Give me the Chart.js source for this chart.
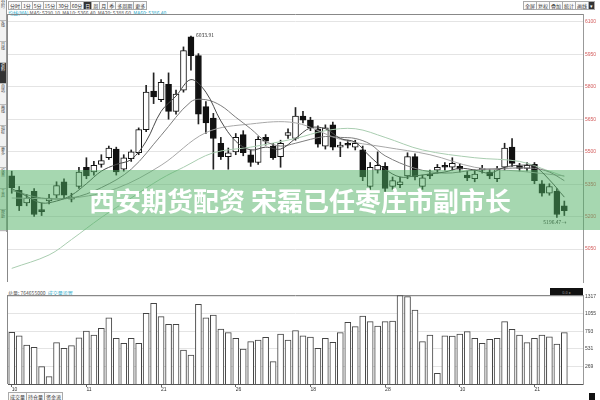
<!DOCTYPE html>
<html>
<head>
<meta charset="utf-8">
<script src="https://cdn.jsdelivr.net/npm/chart.js@4.4.1/dist/chart.umd.min.js"></script>
<style>
  body { margin: 0; width: 600px; height: 400px; overflow: hidden; background: #fff; position: relative;
         font-family: "Noto Sans CJK SC", "Noto Sans", sans-serif; }
  canvas { position: absolute; left: 0; }
  #priceChart { top: 9px; }
  #volChart { top: 287px; }
  .bar { position: absolute; display: flex; font-size: 5px; line-height: 7px; color: #333; }
  .bar span { border: 1px solid #aaa; padding: 0 1px; margin-right: -1px; background: #fafafa; }
  .bar span.on { background: #333; color: #fff; }
  #side { position: absolute; left: 0; top: 0; width: 6px; height: 232px; background: #f2f2f2; border-right: 1px solid #999; }
  #side div { height: 20px; border-bottom: 1px solid #bbb; font-size: 4px; line-height: 6px; writing-mode: vertical-rl; color: #444; }
  #side div.on { background: #333; color: #fff; }
  .legend { position: absolute; font-size: 5px; line-height: 6px; white-space: nowrap; color: #555; }
  .legend b { font-weight: normal; color: #2aa8c8; }
  .dark { position: absolute; background: #111; color: #888; font-size: 4px; line-height: 8px; text-align: center; }
  #banner { position: absolute; left: 0; top: 170px; width: 600px; height: 60px; background: rgba(78, 176, 98, 0.5);
            color: #fff; font-weight: bold; font-size: 26px; line-height: 60px; text-align: center; z-index: 5; }
</style>
</head>
<body>
<div id="side"><div>分时</div><div>K线</div><div>日线</div><div class="on">资料</div><div>自选</div><div>画线</div><div>指标</div><div>更多</div><div>设置</div><div>工具</div><div>帮助</div></div>
<div class="bar" style="left:8px;top:1px"><span>分时</span><span>1分</span><span>5分</span><span>15分</span><span>30分</span><span>60分</span><span class="on">日</span><span>周</span><span>月</span><span>季</span><span>多周期</span><span>更多</span></div>
<div class="bar" style="left:523px;top:1px"><span>全屏</span><span>复权</span><span>叠加</span><span>统计</span><span>画线</span><span class="on">▾</span></div>
<div class="legend" style="left:8px;top:10px"><b>均线(MA)</b> MA5: 5290.10 &nbsp;MA10: 5366.40 &nbsp;MA20: 5388.60 &nbsp;<b>MA60: 5386.40</b></div>
<div class="legend" style="left:8px;top:290px">总量: 764655000 &nbsp;<b>成交量设置</b></div>
<div class="dark" style="left:550px;top:288px;width:33px;height:8px">0.0 ▸</div>
<div class="dark" style="left:589px;top:393px;width:6px;height:7px"></div>
<div class="bar" style="left:8px;top:392px"><span>成交量</span><span>持仓量</span><span>资金流</span></div>
<canvas id="priceChart" width="600" height="278"></canvas>
<canvas id="volChart" width="600" height="106"></canvas>
<div id="banner">西安期货配资 宋磊已任枣庄市副市长</div>
<script>
// candle data, one entry per trading day
const opens = [5388, 5321, 5263, 5317, 5232, 5272, 5299, 5361, 5281, 5339,
    5428, 5406, 5441, 5472, 5512, 5419, 5468, 5495, 5602, 5780,
    5740, 5811, 5686, 5784, 6030, 5944, 5708, 5655, 5539, 5477,
    5499, 5579, 5486, 5450, 5566, 5526, 5477, 5575, 5561, 5664,
    5646, 5606, 5526, 5624, 5521, 5539, 5521, 5508, 5339, 5415,
    5432, 5339, 5348, 5388, 5477, 5339, 5397, 5415, 5437, 5428,
    5432, 5392, 5375, 5415, 5406, 5375, 5428, 5521, 5432, 5423,
    5441, 5352, 5308, 5317, 5250];
const highs = [5410, 5339, 5303, 5330, 5263, 5303, 5361, 5375, 5308, 5428,
    5472, 5455, 5486, 5526, 5521, 5486, 5508, 5610, 5806, 5864,
    5833, 5864, 5784, 5984, 6033.91, 5953, 5731, 5677, 5566, 5517,
    5584, 5597, 5508, 5570, 5579, 5539, 5553, 5606, 5704, 5686,
    5659, 5619, 5624, 5637, 5544, 5553, 5553, 5526, 5450, 5499,
    5450, 5383, 5383, 5495, 5490, 5392, 5415, 5441, 5450, 5472,
    5446, 5410, 5415, 5437, 5419, 5432, 5539, 5561, 5446, 5450,
    5450, 5366, 5352, 5330, 5272];
const lows = [5308, 5228, 5250, 5201, 5205, 5259, 5286, 5286, 5268, 5330,
    5375, 5392, 5428, 5464, 5392, 5410, 5455, 5486, 5593, 5722,
    5731, 5650, 5673, 5775, 5877, 5628, 5584, 5419, 5464, 5419,
    5486, 5481, 5432, 5441, 5530, 5464, 5428, 5561, 5553, 5633,
    5597, 5521, 5512, 5508, 5477, 5517, 5508, 5366, 5326, 5401,
    5317, 5326, 5334, 5375, 5370, 5326, 5375, 5401, 5415, 5415,
    5406, 5366, 5361, 5401, 5375, 5361, 5415, 5432, 5410, 5410,
    5352, 5294, 5299, 5196.47, 5205];
const closes = [5334, 5250, 5286, 5210, 5223, 5286, 5343, 5299, 5290, 5406,
    5388, 5437, 5459, 5517, 5406, 5472, 5499, 5602, 5775, 5753,
    5820, 5686, 5766, 5967, 5944, 5673, 5633, 5561, 5477, 5495,
    5566, 5495, 5450, 5557, 5548, 5472, 5539, 5588, 5664, 5646,
    5610, 5535, 5610, 5521, 5530, 5530, 5539, 5383, 5428, 5437,
    5330, 5366, 5361, 5477, 5383, 5379, 5388, 5428, 5428, 5446,
    5419, 5379, 5397, 5423, 5388, 5419, 5517, 5446, 5423, 5437,
    5366, 5308, 5339, 5210, 5228];
const volumes = [779, 727, 587, 553, 261, 110, 622, 538, 577, 697,
    798, 738, 839, 998, 688, 613, 688, 613, 1065, 1215,
    1014, 899, 899, 512, 437, 1200, 998, 1039, 828, 773,
    688, 527, 637, 663, 703, 336, 753, 663, 803, 727,
    708, 538, 688, 628, 773, 929, 863, 1024, 938, 873,
    938, 949, 1330, 1315, 1114, 637, 738, 161, 727, 723,
    753, 788, 688, 613, 673, 688, 938, 824, 738, 622,
    688, 738, 712, 602, 773];

const ma5 = [5330, null, 5294, null, 5263, null, 5272, null, 5299, null,
    5352, null, 5410, null, 5441, null, 5464, null, 5548, null,
    5686, null, 5757, null, 5833, null, 5775, null, 5642, null,
    5548, null, 5508, null, 5521, null, 5512, null, 5561, null,
    5610, null, 5606, null, 5561, null, 5544, null, 5477, null,
    5419, null, 5383, null, 5388, null, 5397, null, 5406, null,
    5423, null, 5415, null, 5401, null, 5428, null, 5437, null,
    5432, null, 5370, null, 5290];
const ma10 = [5321, null, null, null, 5286, null, null, null, 5286, null,
    null, null, 5334, null, null, null, 5419, null, null, null,
    5575, null, null, null, 5731, null, 5740, null, 5713, null,
    5659, null, 5606, null, 5548, null, 5526, null, 5539, null,
    5557, null, 5570, null, 5566, null, 5561, null, 5535, null,
    5481, null, null, null, 5423, null, null, null, 5401, null,
    null, null, 5415, null, null, null, 5423, null, null, null,
    5423, null, 5406, null, 5366];
const ma20 = [5286, null, null, null, null, null, null, null, 5286, null,
    null, null, null, null, 5330, null, null, null, null, null,
    5437, null, null, null, null, null, 5588, null, null, null,
    null, null, 5628, null, null, null, null, null, 5633, null,
    null, null, null, null, 5557, null, null, null, null, null,
    5521, null, null, null, null, null, 5486, null, null, null,
    null, null, 5428, null, null, null, null, null, 5410, null,
    null, null, null, null, 5388];
const ma60 = [4961, null, null, null, null, 5023, null, null, 5094, null,
    null, null, 5196, null, null, null, 5286, null, null, null,
    5375, null, null, 5428, null, null, null, 5495, null, null,
    null, null, 5521, null, null, null, null, null, 5561, null,
    null, null, 5597, null, null, null, 5606, null, null, null,
    5566, null, null, null, null, 5508, null, null, null, null,
    null, null, 5472, null, null, null, null, null, 5455, null,
    null, null, 5410, null, 5386];

// axes
const priceTicks = [5050, 5200, 5350, 5500, 5650, 5800, 5950, 6100];
const volumeTicks = [269, 531, 793, 1055, 1317];
const dateTicks = ['10', '11', '21', '26', '18', '28', '10', '21'];
const slotCount = 77; // two empty slots on the right edge

const labels = Array.from({ length: slotCount }, (_, i) => (i % 10 === 0 && dateTicks[i / 10]) || '');

const fixWidth = scale => { scale.width = 17; };

// frame lines and the high / low notes
const framePlugin = {
    id: 'frame',
    beforeDraw(chart) {
        const { ctx, chartArea: a } = chart;
        ctx.save();
        ctx.strokeStyle = '#888';
        ctx.lineWidth = 1;
        ctx.beginPath();
        ctx.moveTo(a.left - 0.5, a.top);
        ctx.lineTo(a.left - 0.5, a.bottom);
        ctx.moveTo(a.left, a.top + 0.5);
        ctx.lineTo(a.right, a.top + 0.5);
        ctx.stroke();
        ctx.restore();
    }
};

const notePlugin = {
    id: 'notes',
    afterDatasetsDraw(chart) {
        const { ctx, scales: { x, y } } = chart;
        const hi = Math.max(...highs);
        const lo = Math.min(...lows);
        const hiX = x.getPixelForValue(highs.indexOf(hi));
        const loX = x.getPixelForValue(lows.indexOf(lo));
        ctx.save();
        ctx.font = '5px "Noto Sans CJK SC"';
        ctx.fillStyle = '#333';
        ctx.textBaseline = 'middle';
        ctx.textAlign = 'left';
        ctx.fillText(hi.toFixed(2), hiX + 5, y.getPixelForValue(hi) - 1);
        ctx.textAlign = 'center';
        ctx.fillText(lo.toFixed(2) + '→', loX - 2, y.getPixelForValue(lo) + 5);
        ctx.restore();
    }
};

const maLine = (label, data, color, order) => ({
    type: 'line', label, data, borderColor: color, borderWidth: 1,
    pointRadius: 0, spanGaps: true, tension: 0.35, order
});

new Chart(document.getElementById('priceChart'), {
    type: 'bar',
    data: {
        labels,
        datasets: [
            maLine('MA5', ma5, '#4a4a4a', 1),
            maLine('MA10', ma10, '#7d7d7d', 1),
            maLine('MA20', ma20, '#a8a8a8', 1),
            maLine('MA60', ma60, '#a9cdb0', 1),
            {
                label: 'body',
                data: opens.map((o, i) => [o, closes[i]]),
                backgroundColor: opens.map((o, i) => closes[i] >= o ? '#ffffff' : '#111111'),
                borderColor: '#111',
                borderWidth: 1,
                borderSkipped: false,
                barThickness: 6,
                grouped: false,
                order: 4
            },
            {
                label: 'wick',
                data: lows.map((l, i) => [l, highs[i]]),
                backgroundColor: '#222',
                barThickness: 1,
                grouped: false,
                order: 5
            }
        ]
    },
    options: {
        responsive: false,
        animation: false,
        devicePixelRatio: 1,
        layout: { padding: { left: 8, top: 0, right: 0, bottom: 0 } },
        plugins: { legend: { display: false }, tooltip: { enabled: false } },
        scales: {
            x: { display: false },
            y: {
                position: 'right',
                min: 4898,
                max: 6136,
                afterBuildTicks: s => { s.ticks = priceTicks.map(v => ({ value: v })); },
                afterFit: fixWidth,
                grid: { color: '#e4e4e4', drawTicks: false },
                border: { color: '#999' },
                ticks: { color: '#d25a5a', font: { size: 5 }, padding: 2, callback: v => String(v) }
            }
        }
    },
    plugins: [framePlugin, notePlugin]
});

new Chart(document.getElementById('volChart'), {
    type: 'bar',
    data: {
        labels,
        datasets: [{
            label: 'volume',
            data: volumes,
            backgroundColor: '#fff',
            borderColor: '#444',
            borderWidth: 1,
            barThickness: 6
        }]
    },
    options: {
        responsive: false,
        animation: false,
        devicePixelRatio: 1,
        layout: { padding: { left: 8, top: 8, right: 0, bottom: 0 } },
        plugins: { legend: { display: false }, tooltip: { enabled: false } },
        scales: {
            x: {
                afterFit: s => { s.height = 9; },
                grid: {
                    offset: false,
                    drawOnChartArea: false,
                    tickLength: 3,
                    color: c => labels[c.index] ? '#666' : 'transparent'
                },
                border: { color: '#555' },
                ticks: {
                    autoSkip: false, maxRotation: 0, align: 'start', padding: 0,
                    color: '#333', font: { size: 5 },
                    callback: (v, i) => labels[i]
                }
            },
            y: {
                position: 'right',
                min: 0,
                max: 1340,
                afterBuildTicks: s => { s.ticks = volumeTicks.map(v => ({ value: v })); },
                afterFit: fixWidth,
                grid: { color: '#e4e4e4', drawTicks: false },
                border: { color: '#999' },
                ticks: { color: '#444', font: { size: 5 }, padding: 2, callback: v => String(v) }
            }
        }
    },
    plugins: [framePlugin]
});
</script>
</body>
</html>
